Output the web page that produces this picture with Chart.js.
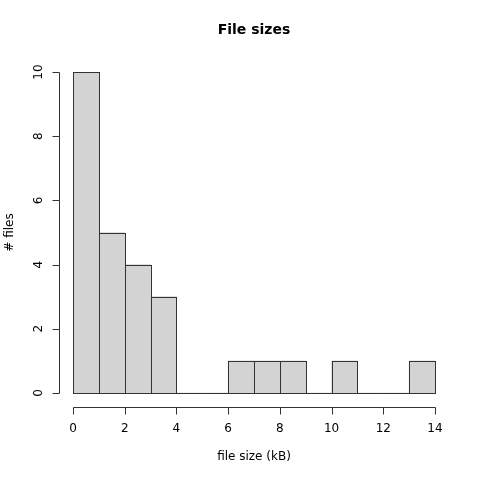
<!DOCTYPE html>
<html>
<head>
<meta charset="utf-8">
<script src="https://cdn.jsdelivr.net/npm/chart.js@4/dist/chart.umd.min.js"></script>
<style>
  html, body { margin: 0; padding: 0; background: #fff; }
  #wrap { width: 480px; height: 480px; }
</style>
</head>
<body>
<div id="wrap"><canvas id="hist" width="480" height="480"></canvas></div>
<script>
// histogram bins (1 kB wide) and their counts
const bins = ['0-1', '1-2', '2-3', '3-4', '4-5', '5-6', '6-7', '7-8', '8-9', '9-10', '10-11', '11-12', '12-13', '13-14'];
const counts = [10, 5, 4, 3, 0, 0, 1, 1, 1, 0, 1, 0, 0, 1];
const xTicks = [0, 2, 4, 6, 8, 10, 12, 14];
const yTicks = [0, 2, 4, 6, 8, 10];

const FONT = '"DejaVu Sans", sans-serif';

// R-style axes, bar outlines and titles
const rAxes = {
    id: 'rAxes',
    afterDatasetsDraw(chart) {
        const ctx = chart.ctx;
        const meta = chart.getDatasetMeta(0);
        const yScale = chart.scales.y;
        const kb = chart.scales.kb;

        ctx.save();
        ctx.strokeStyle = '#333333';
        ctx.lineWidth = 1;

        // bar outlines (also draws empty bins as a flat line)
        meta.data.forEach(bar => {
            const l = Math.round(bar.x - bar.width / 2) + 0.5;
            const r = Math.round(bar.x + bar.width / 2) + 0.5;
            const t = Math.round(bar.y) + 0.5;
            const b = Math.round(bar.base) + 0.5;
            ctx.strokeRect(l, t, r - l, b - t);
        });

        ctx.fillStyle = '#000';
        ctx.font = '12px ' + FONT;

        // x axis
        const yAx = Math.round(chart.chartArea.bottom + 14) + 0.5;
        ctx.beginPath();
        ctx.moveTo(Math.round(kb.getPixelForValue(xTicks[0])) + 0.5, yAx);
        ctx.lineTo(Math.round(kb.getPixelForValue(xTicks[xTicks.length - 1])) + 0.5, yAx);
        xTicks.forEach(v => {
            const px = Math.round(kb.getPixelForValue(v)) + 0.5;
            ctx.moveTo(px, yAx);
            ctx.lineTo(px, yAx + 7);
        });
        ctx.stroke();
        ctx.textAlign = 'center';
        ctx.textBaseline = 'middle';
        xTicks.forEach(v => {
            ctx.fillText(String(v), kb.getPixelForValue(v), yAx + 21);
        });

        // y axis
        const xAx = Math.round(chart.chartArea.left - 14) + 0.5;
        ctx.beginPath();
        ctx.moveTo(xAx, Math.round(yScale.getPixelForValue(yTicks[0])) + 0.5);
        ctx.lineTo(xAx, Math.round(yScale.getPixelForValue(yTicks[yTicks.length - 1])) + 0.5);
        yTicks.forEach(v => {
            const py = Math.round(yScale.getPixelForValue(v)) + 0.5;
            ctx.moveTo(xAx, py);
            ctx.lineTo(xAx - 7, py);
        });
        ctx.stroke();
        yTicks.forEach(v => {
            ctx.save();
            ctx.translate(xAx - 21, yScale.getPixelForValue(v));
            ctx.rotate(-Math.PI / 2);
            ctx.fillText(String(v), 0, 0);
            ctx.restore();
        });

        // axis titles
        const midX = (chart.chartArea.left + chart.chartArea.right) / 2;
        const midY = (chart.chartArea.top + chart.chartArea.bottom) / 2;
        ctx.fillText('file size (kB)', midX, 457);
        ctx.save();
        ctx.translate(10, midY);
        ctx.rotate(-Math.PI / 2);
        ctx.fillText('# files', 0, 0);
        ctx.restore();

        // main title
        ctx.font = 'bold 14px ' + FONT;
        ctx.fillText('File sizes', midX, 30);
        ctx.restore();
    }
};

new Chart(document.getElementById('hist'), {
    type: 'bar',
    data: {
        labels: bins,
        datasets: [{
            data: counts,
            backgroundColor: '#d3d3d3',
            borderWidth: 0,
            barPercentage: 1,
            categoryPercentage: 1
        }]
    },
    options: {
        responsive: false,
        animation: false,
        layout: { padding: { left: 73, right: 45, top: 72, bottom: 87 } },
        plugins: {
            legend: { display: false },
            tooltip: { enabled: false }
        },
        scales: {
            x: { display: false },
            kb: { type: 'linear', axis: 'x', position: 'bottom', display: false, offset: false, min: 0, max: 14 },
            y: { display: false, min: 0, max: 10 }
        }
    },
    plugins: [rAxes]
});
</script>
</body>
</html>
